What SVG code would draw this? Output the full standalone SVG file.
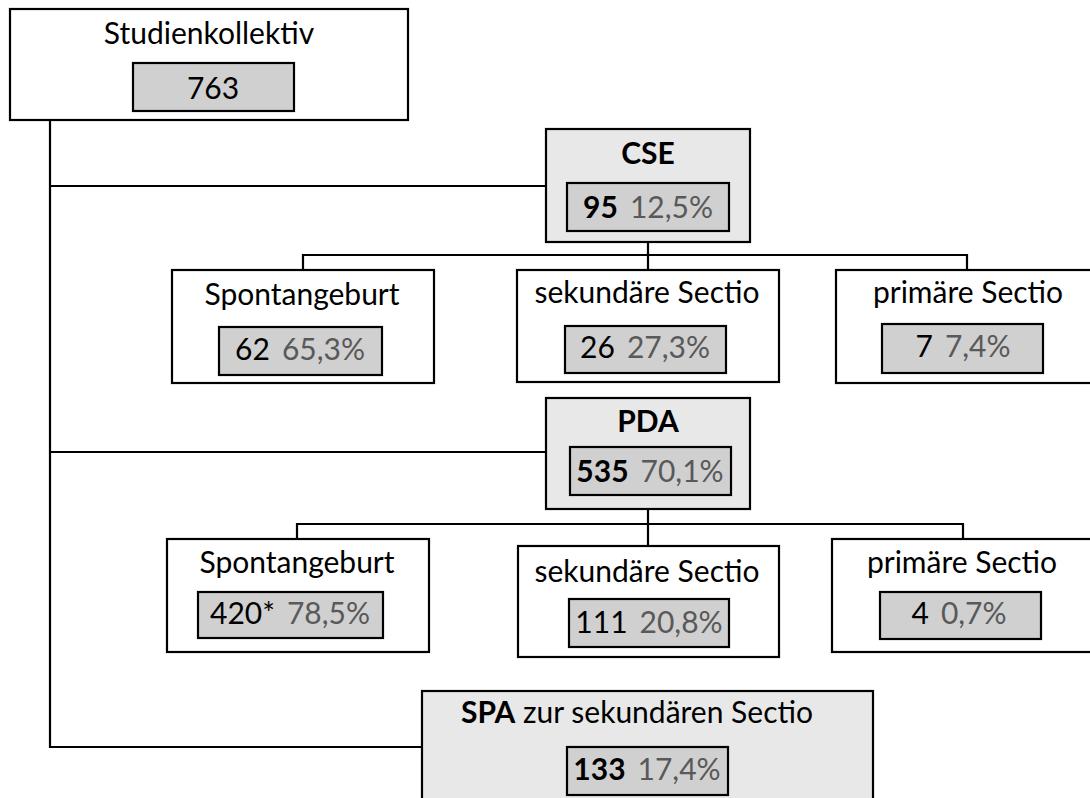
<svg xmlns="http://www.w3.org/2000/svg" width="1090" height="798" viewBox="0 0 1090 798">
<style>
.box{fill:#ffffff;stroke:#000;stroke-width:2.2}
.gbox{fill:#e8e8e8;stroke:#000;stroke-width:2.2}
.ibox{fill:#d0d0d0;stroke:#000;stroke-width:2.2}
.ln{fill:none;stroke:#000;stroke-width:2.2}
text{font-family:Lato,"Liberation Sans",sans-serif;font-size:30px;fill:#000;text-anchor:middle}
.b{font-weight:bold}
.p{fill:#595959}
</style>
<rect width="1090" height="798" fill="#fff"/>
<g id="connectors">
<polyline class="ln" points="50,120 50,747 422,747"/>
<line class="ln" x1="50" y1="186" x2="546" y2="186"/>
<line class="ln" x1="50" y1="452" x2="546" y2="452"/>
<polyline class="ln" points="303,270 303,255 967,255 967,270"/>
<line class="ln" x1="648" y1="242" x2="648" y2="270"/>
<polyline class="ln" points="297,539 297,524 963,524 963,539"/>
<line class="ln" x1="648" y1="509" x2="648" y2="546"/>
</g>
<g id="studienkollektiv">
<rect class="box" x="10" y="9" width="398" height="111"/>
<text x="209" y="44">Studienkollektiv</text>
<rect class="ibox" x="133" y="63" width="161" height="48"/>
<text x="213" y="99">763</text>
</g>
<g id="cse">
<rect class="gbox" x="546" y="129" width="204" height="113"/>
<text class="b" x="648" y="164">CSE</text>
<rect class="ibox" x="567" y="183" width="162" height="48"/>
<text x="648" y="218"><tspan class="b">95</tspan><tspan class="p" dx="12">12,5%</tspan></text>
</g>
<g id="cse-spontan">
<rect class="box" x="172" y="270" width="262" height="113"/>
<text x="302" y="305">Spontangeburt</text>
<rect class="ibox" x="219" y="327" width="163" height="48"/>
<text x="300" y="360">62<tspan class="p" dx="12">65,3%</tspan></text>
</g>
<g id="cse-sekundaer">
<rect class="box" x="517" y="270" width="262" height="112"/>
<text x="647" y="303">sekundäre Sectio</text>
<rect class="ibox" x="565" y="326" width="161" height="47"/>
<text x="645" y="358">26<tspan class="p" dx="12">27,3%</tspan></text>
</g>
<g id="cse-primaer">
<rect class="box" x="836" y="270" width="262" height="113"/>
<text x="968" y="303">primäre Sectio</text>
<rect class="ibox" x="882" y="324" width="161" height="49"/>
<text x="963" y="357">7<tspan class="p" dx="12">7,4%</tspan></text>
</g>
<g id="pda">
<rect class="gbox" x="546" y="398" width="204" height="111"/>
<text class="b" x="648" y="432">PDA</text>
<rect class="ibox" x="570" y="447" width="161" height="48"/>
<text x="650" y="482"><tspan class="b">535</tspan><tspan class="p" dx="12">70,1%</tspan></text>
</g>
<g id="pda-spontan">
<rect class="box" x="167" y="539" width="262" height="113"/>
<text x="297" y="573">Spontangeburt</text>
<rect class="ibox" x="198" y="592" width="185" height="46"/>
<text x="290" y="624">420*<tspan class="p" dx="12">78,5%</tspan></text>
</g>
<g id="pda-sekundaer">
<rect class="box" x="518" y="546" width="261" height="111"/>
<text x="647" y="582">sekundäre Sectio</text>
<rect class="ibox" x="569" y="599" width="160" height="48"/>
<text x="649" y="633">111<tspan class="p" dx="12">20,8%</tspan></text>
</g>
<g id="pda-primaer">
<rect class="box" x="832" y="539" width="262" height="113"/>
<text x="962" y="573">primäre Sectio</text>
<rect class="ibox" x="880" y="592" width="161" height="47"/>
<text x="959" y="624">4<tspan class="p" dx="12">0,7%</tspan></text>
</g>
<g id="spa">
<rect class="gbox" x="422" y="691" width="451" height="120"/>
<text x="637" y="723"><tspan class="b">SPA</tspan> zur sekundären Sectio</text>
<rect class="ibox" x="567" y="747" width="161" height="48"/>
<text x="647" y="780"><tspan class="b">133</tspan><tspan class="p" dx="12">17,4%</tspan></text>
</g>
</svg>
